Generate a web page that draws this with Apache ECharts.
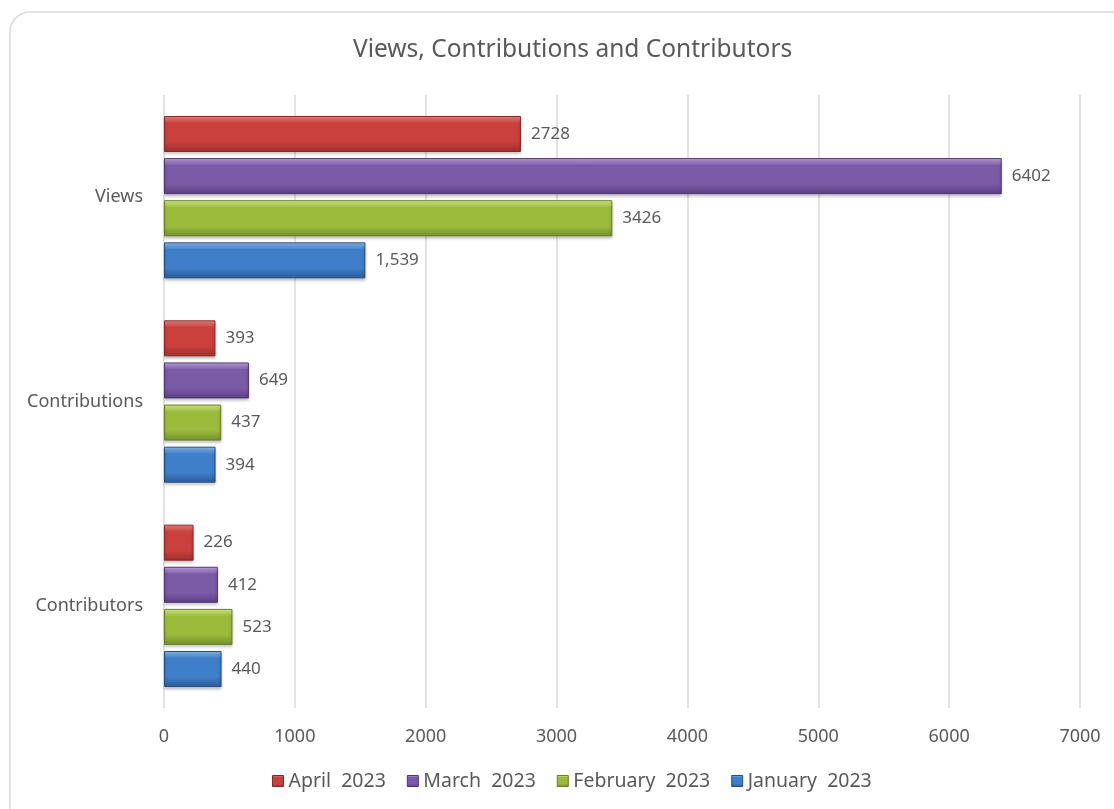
<!DOCTYPE html>
<html>
<head>
<meta charset="utf-8">
<script src="https://cdn.jsdelivr.net/npm/echarts@6/dist/echarts.min.js"></script>
<style>
  html, body { margin: 0; padding: 0; background: #ffffff; }
  #chart { width: 1114px; height: 809px; }
</style>
</head>
<body>
<div id="chart"></div>
<script>
// Metrics shown on the category axis (top to bottom)
const categories = ['Views', 'Contributions', 'Contributors'];

// Monthly figures, one array per month, in category order
const april2023 = [2728, 393, 226];
const march2023 = [6402, 649, 412];
const february2023 = [3426, 437, 523];
const january2023 = [1539, 394, 440];

const seriesNames = ['April  2023', 'March  2023', 'February  2023', 'January  2023'];

// Value axis ticks
const xTicks = [0, 1000, 2000, 3000, 4000, 5000, 6000, 7000];

// Bevel-like shading per month: [highlight, base, shade, edge]
const palette = [
  ['#f58c88', '#c9403d', '#9c2f2c', '#8a2826'],
  ['#c9aeea', '#7b5aa6', '#5a3f82', '#4e3672'],
  ['#e3f992', '#9bbb3c', '#74902b', '#667f25'],
  ['#93c6f5', '#3f7ec9', '#2a5c98', '#244f85']
];

function shade(c) {
  return {
    type: 'linear', x: 0, y: 0, x2: 0, y2: 1,
    colorStops: [
      { offset: 0, color: c[0] },
      { offset: 0.2, color: c[1] },
      { offset: 0.72, color: c[1] },
      { offset: 1, color: c[2] }
    ]
  };
}

const values = [april2023, march2023, february2023, january2023];
const grouped = [false, false, false, true];
const font = 'Noto Sans';

const series = values.map((vals, i) => ({
  name: seriesNames[i],
  type: 'bar',
  data: vals,
  barWidth: 36,
  barGap: '17%',
  itemStyle: {
    color: shade(palette[i]),
    borderColor: palette[i][3],
    borderWidth: 1,
    shadowColor: 'rgba(0,0,0,0.28)',
    shadowBlur: 3,
    shadowOffsetY: 2
  },
  label: {
    show: true,
    position: 'right',
    distance: 10,
    color: '#595959',
    fontSize: 17,
    fontFamily: font,
    formatter: p => grouped[i] ? p.value.toLocaleString('en-US') : String(p.value)
  }
}));

const chart = echarts.init(document.getElementById('chart'), null, { renderer: 'canvas' });
chart.setOption({
  animation: false,
  backgroundColor: '#ffffff',
  graphic: [{
    type: 'rect',
    shape: { x: 10, y: 12, width: 1120, height: 820, r: 20 },
    style: { fill: 'none', stroke: '#d9d9d9', lineWidth: 1.5 },
    silent: true,
    z: -10
  }],
  title: {
    text: 'Views, Contributions and Contributors',
    left: 348,
    top: 33,
    textStyle: { color: '#595959', fontSize: 24.5, fontWeight: 'normal', fontFamily: font }
  },
  legend: {
    bottom: 13,
    left: 267,
    itemWidth: 11,
    itemHeight: 11,
    itemGap: 21,
    icon: 'rect',
    textStyle: { color: '#595959', fontSize: 19.5, fontFamily: font },
    data: seriesNames.map((n, i) => ({ name: n, itemStyle: { color: shade(palette[i]), borderColor: palette[i][3], borderWidth: 1, shadowBlur: 0, shadowOffsetY: 0 } }))
  },
  grid: { left: 164, right: 34, top: 95, bottom: 101 },
  xAxis: {
    type: 'value',
    min: xTicks[0],
    max: xTicks[xTicks.length - 1],
    interval: xTicks[1] - xTicks[0],
    axisLine: { show: false },
    axisTick: { show: false },
    splitLine: { lineStyle: { color: '#d9d9d9', width: 1.5 } },
    axisLabel: { color: '#595959', fontSize: 18, fontFamily: font, margin: 20, formatter: v => String(v) }
  },
  yAxis: {
    type: 'category',
    inverse: true,
    data: categories,
    axisLine: { show: false },
    axisTick: { show: false },
    axisLabel: { color: '#595959', fontSize: 18, fontFamily: font, margin: 21 }
  },
  series: series
});
</script>
</body>
</html>
